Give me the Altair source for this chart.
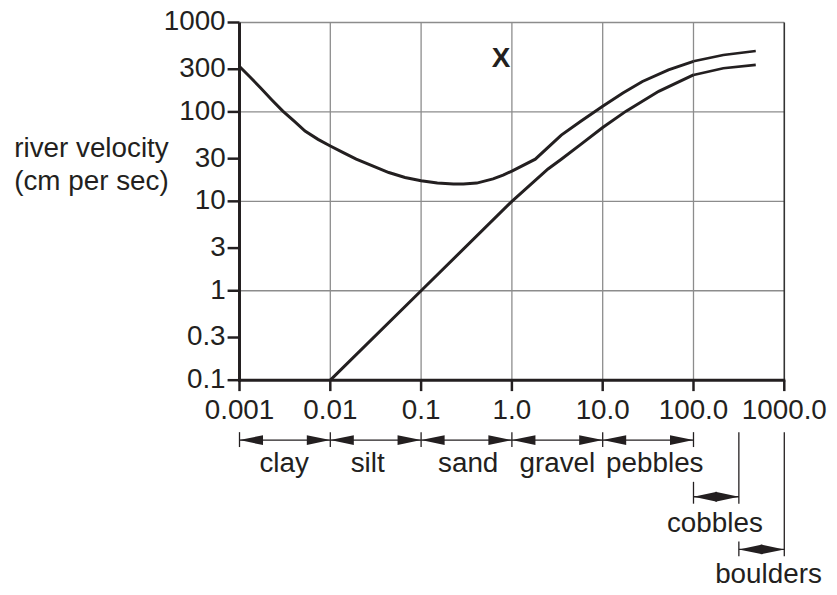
import altair as alt
import pandas as pd

# ---------------- data ----------------
# erosion curve (upper), solid part: grain size (mm) and velocity (cm/s)
upper_size = [0.001, 0.00129, 0.00171, 0.00226, 0.003, 0.004, 0.00527, 0.00733, 0.01,
              0.0139, 0.0193, 0.0292, 0.0441, 0.0665, 0.1, 0.151, 0.227, 0.292, 0.41,
              0.62, 0.8, 1.0, 1.81, 2.97, 3.5, 5.74, 10.0, 16.7, 27.4, 53.0, 100.0]
upper_vel = [322, 249, 185, 137, 102, 78.8, 61, 49.3, 41.6,
             35, 29.6, 24.9, 21, 18.5, 17, 16, 15.6, 15.6, 16,
             17.8, 19.6, 21.8, 29.6, 47.2, 55, 78.8, 116, 163, 219, 296, 368]
# erosion curve, extension beyond 100 mm
upper_dash_size = [100.0, 213.0, 485.0]
upper_dash_vel = [368, 434, 481]
# deposition curve (lower), solid part
lower_size = [0.01, 0.1, 1.0, 2.5, 3.5, 5.74, 10.0, 18.1, 41.4, 100.0]
lower_vel = [0.1, 1.0, 10.0, 23, 29.6, 43.4, 67, 102, 170, 259]
# deposition curve, extension beyond 100 mm
lower_dash_size = [100.0, 213.0, 485.0]
lower_dash_vel = [259, 308, 336]

x_ticks = [0.001, 0.01, 0.1, 1, 10, 100, 1000]
x_tick_labels = ["0.001", "0.01", "0.1", "1.0", "10.0", "100.0", "1000.0"]
y_ticks = [0.1, 0.3, 1, 3, 10, 30, 100, 300, 1000]
y_tick_labels = ["0.1", "0.3", "1", "3", "10", "30", "100", "300", "1000"]
x_grid = [0.01, 0.1, 1, 10, 100]
y_grid = [1, 10, 100, 1000]

y_title_lines = ["river velocity", "(cm per sec)"]

# grain size classes (mm)
class_names = ["clay", "silt", "sand", "gravel", "pebbles", "cobbles", "boulders"]
class_lo = [0.001, 0.01, 0.1, 1, 10, 100, 316]
class_hi = [0.01, 0.1, 1, 10, 100, 316, 1000]
class_label_at = [0.0031, 0.0258, 0.33, 3.17, 37.5, 172, 670]
class_row = [1, 1, 1, 1, 1, 2, 3]

marker_text = ["X"]
marker_size = [0.76]
marker_vel = [316]

# ---------------- styling / layout ----------------
INK = "#231f20"
GRID = "#8c8c8c"
FONT = "Liberation Sans"
W, H = 548.3, 360

xscale = alt.Scale(type="log", domain=[0.001, 1000], nice=False)
yscale = alt.Scale(type="log", domain=[0.1, 1000], nice=False)


def X(field):
    return alt.X(field, type="quantitative", scale=xscale, axis=None)


def Y(field):
    return alt.Y(field, type="quantitative", scale=yscale, axis=None)


up = pd.DataFrame({"size": upper_size, "vel": upper_vel})
low = pd.DataFrame({"size": lower_size, "vel": lower_vel})
up_d = pd.DataFrame({"size": upper_dash_size, "vel": upper_dash_vel})
low_d = pd.DataFrame({"size": lower_dash_size, "vel": lower_dash_vel})
classes = pd.DataFrame({"name": class_names, "lo": class_lo, "hi": class_hi,
                        "at": class_label_at, "grp": class_row})
marker = pd.DataFrame({"t": marker_text, "size": marker_size, "vel": marker_vel})
xt = pd.DataFrame({"v": x_ticks, "label": x_tick_labels})
yt = pd.DataFrame({"v": y_ticks, "label": y_tick_labels})

# grid and frame
hgrid = alt.Chart(pd.DataFrame({"v": y_grid})).mark_rule(color=GRID, strokeWidth=1.3).encode(
    y=Y("v"), x=alt.value(0), x2=alt.value(W))
vgrid = alt.Chart(pd.DataFrame({"v": x_grid})).mark_rule(color=GRID, strokeWidth=1.3).encode(
    x=X("v"), y=alt.value(0), y2=alt.value(H))
rborder = alt.Chart(pd.DataFrame({"v": [1000]})).mark_rule(color="#333333", strokeWidth=1.6).encode(
    x=X("v"), y=alt.value(0), y2=alt.value(H))

# axis lines, ticks and tick labels
left_line = alt.Chart(pd.DataFrame({"v": [0.001]})).mark_rule(color=INK, strokeWidth=3).encode(
    x=X("v"), y=alt.value(0), y2=alt.value(H + 1.5))
bottom_line = alt.Chart(pd.DataFrame({"v": [0.1]})).mark_rule(color=INK, strokeWidth=3).encode(
    y=Y("v"), x=alt.value(-1.5), x2=alt.value(W + 1))
x_tick_marks = alt.Chart(xt).mark_rule(color=INK, strokeWidth=2.5).encode(
    x=X("v"), y=alt.value(H), y2=alt.value(H + 11))
y_tick_marks = alt.Chart(yt).mark_rule(color=INK, strokeWidth=2.5).encode(
    y=Y("v"), x=alt.value(-12), x2=alt.value(0))
x_tick_text = alt.Chart(xt).mark_text(font=FONT, fontSize=28, color=INK, align="center",
                                      baseline="alphabetic").encode(
    x=X("v"), y=alt.value(398.6), text="label:N")
y_tick_text = alt.Chart(yt).mark_text(font=FONT, fontSize=28, color=INK, align="right",
                                      baseline="middle").encode(
    y=Y("v"), x=alt.value(-14), text="label:N")

# curves
upper_line = alt.Chart(up).mark_line(color=INK, strokeWidth=3).encode(x=X("size"), y=Y("vel"))
lower_line = alt.Chart(low).mark_line(color=INK, strokeWidth=3).encode(x=X("size"), y=Y("vel"))
upper_ext = alt.Chart(up_d).mark_line(color=INK, strokeWidth=2.6).encode(x=X("size"), y=Y("vel"))
lower_ext = alt.Chart(low_d).mark_line(color=INK, strokeWidth=2.6).encode(x=X("size"), y=Y("vel"))

mark_x = alt.Chart(marker).mark_text(font=FONT, fontSize=28, fontWeight="bold", color=INK,
                                     align="center", baseline="alphabetic").encode(
    x=X("size"), y=Y("vel"), text="t:N")

# y-axis title (two horizontal lines, left of the axis)
title_layers = []
for i, line in enumerate(y_title_lines):
    title_layers.append(
        alt.Chart(pd.DataFrame({"t": [line]})).mark_text(
            font=FONT, fontSize=28, color=INK, align="center", baseline="alphabetic").encode(
            x=alt.value(-149), y=alt.value(135.0 + 33.5 * i), text="t:N"))

# grain-size annotation below the axis
ARROW_Y = {1: 420.3, 2: 477.3, 3: 530.3}
LABEL_Y = {1: 452.3, 2: 512.3, 3: 564.3}
LEFT_HEAD = "M0,0L2,-0.42L2,0.42Z"
RIGHT_HEAD = "M0,0L-2,-0.42L-2,0.42Z"

anno = []
for r in (1, 2, 3):
    base = alt.Chart(classes).transform_filter(alt.datum.grp == r)
    anno.append(base.mark_rule(color=INK, strokeWidth=1.3).encode(
        x=X("lo"), x2="hi", y=alt.value(ARROW_Y[r])))
    anno.append(base.mark_point(shape=LEFT_HEAD, filled=True, size=560, color=INK, opacity=1,
                                strokeWidth=0).encode(x=X("lo"), y=alt.value(ARROW_Y[r])))
    anno.append(base.mark_point(shape=RIGHT_HEAD, filled=True, size=560, color=INK, opacity=1,
                                strokeWidth=0).encode(x=X("hi"), y=alt.value(ARROW_Y[r])))
    anno.append(base.mark_text(font=FONT, fontSize=28, color=INK, align="center",
                               baseline="alphabetic").encode(
        x=X("at"), y=alt.value(LABEL_Y[r]), text="name:N"))


def bar(filter_expr, field, top, bottom):
    return alt.Chart(classes).transform_filter(filter_expr).mark_rule(
        color=INK, strokeWidth=1.3).encode(x=X(field), y=alt.value(top), y2=alt.value(bottom))


bars = [
    bar(alt.datum.grp == 1, "lo", 412.3, 427.3),
    bar(alt.datum.name == "pebbles", "hi", 412.3, 427.3),
    bar(alt.datum.name == "cobbles", "lo", 462.3, 484.3),
    bar(alt.datum.name == "cobbles", "hi", 412.3, 484.3),
    bar(alt.datum.name == "boulders", "lo", 522.3, 537.3),
    bar(alt.datum.name == "boulders", "hi", 412.3, 537.3),
]

chart = alt.layer(
    hgrid, vgrid, rborder, upper_line, lower_line, upper_ext, lower_ext,
    left_line, bottom_line, x_tick_marks, y_tick_marks, x_tick_text, y_tick_text, mark_x,
    *title_layers, *anno, *bars
).properties(
    width=W, height=H,
    autosize=alt.AutoSizeParams(type="none"),
    padding={"left": 233, "top": 12.7, "right": 45, "bottom": 213},
    background="white",
).configure_view(stroke=None)

chart.save("out.html", embed_options={"renderer": "svg", "actions": False})
